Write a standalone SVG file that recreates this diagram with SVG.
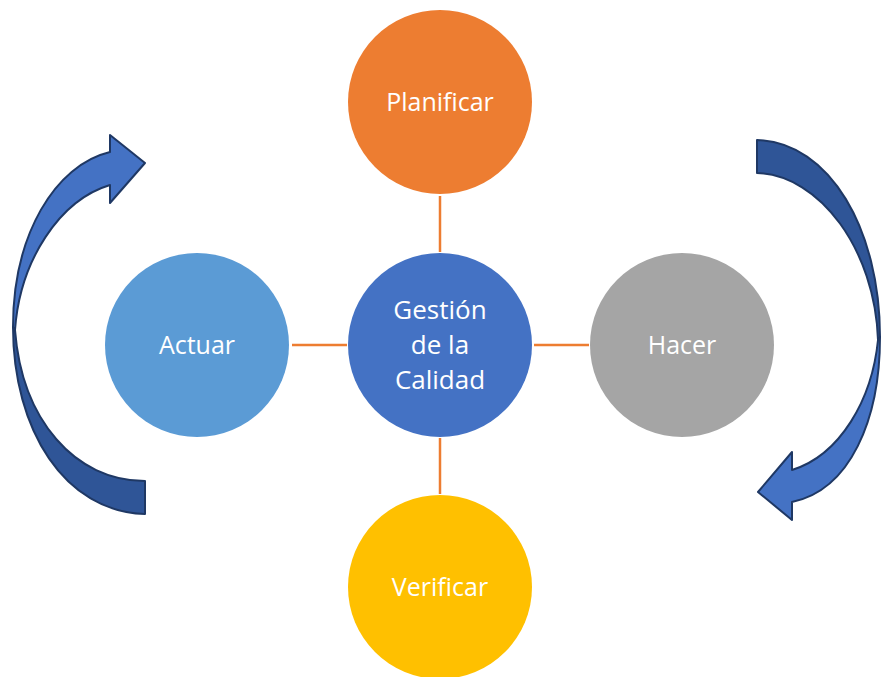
<svg xmlns="http://www.w3.org/2000/svg" width="881" height="677" viewBox="0 0 881 677">
<style>
.lbl{font-family:"Open Sans","Liberation Sans",sans-serif;font-size:25px;fill:#fff;text-anchor:middle;dominant-baseline:central}
.big{font-size:26px}
.con{stroke:#ED7D31;stroke-width:2.5;fill:none}
.arr{stroke:#1F3864;stroke-width:2;stroke-linejoin:round}
.dark{fill:#2F5597}
.light{fill:#4472C4}
</style>
<rect width="881" height="677" fill="#fff"/>
<g id="connectors">
<line class="con" x1="440" y1="196" x2="440" y2="252"/>
<line class="con" x1="440" y1="438" x2="440" y2="494"/>
<line class="con" x1="292" y1="345" x2="347" y2="345"/>
<line class="con" x1="534" y1="345" x2="589" y2="345"/>
</g>
<g id="arrow-left">
<path class="arr dark" d="M145,514 C65,512 13,430 13,327 L15,330 C22,420 75,481 145,481 Z"/>
<path class="arr light" d="M13,327 C13,235 55,165 110,152 L110,135 L145,163 L110,203 L110,185 C60,200 20,260 15,330 Z"/>
</g>
<g id="arrow-right">
<path class="arr dark" d="M757,140 C830,142 880,230 880,337 L878,340 C875,250 820,175 757,173 Z"/>
<path class="arr light" d="M880,337 C880,420 850,490 792,502 L792,520 L758,492 L792,452 L792,470 C840,455 872,400 878,340 Z"/>
</g>
<g id="planificar">
<circle cx="440" cy="102" r="92" fill="#ED7D31"/>
<text class="lbl" x="440" y="101">Planificar</text>
</g>
<g id="gestion">
<circle cx="440" cy="345" r="92" fill="#4472C4"/>
<text class="lbl big" x="440" y="309">Gestión</text>
<text class="lbl big" x="440" y="344">de la</text>
<text class="lbl big" x="440" y="379">Calidad</text>
</g>
<g id="actuar">
<circle cx="197" cy="345" r="92" fill="#5B9BD5"/>
<text class="lbl" x="197" y="344">Actuar</text>
</g>
<g id="hacer">
<circle cx="682" cy="345" r="92" fill="#A5A5A5"/>
<text class="lbl" x="682" y="344">Hacer</text>
</g>
<g id="verificar">
<circle cx="440" cy="587" r="92" fill="#FFC000"/>
<text class="lbl" x="440" y="586">Verificar</text>
</g>
</svg>
